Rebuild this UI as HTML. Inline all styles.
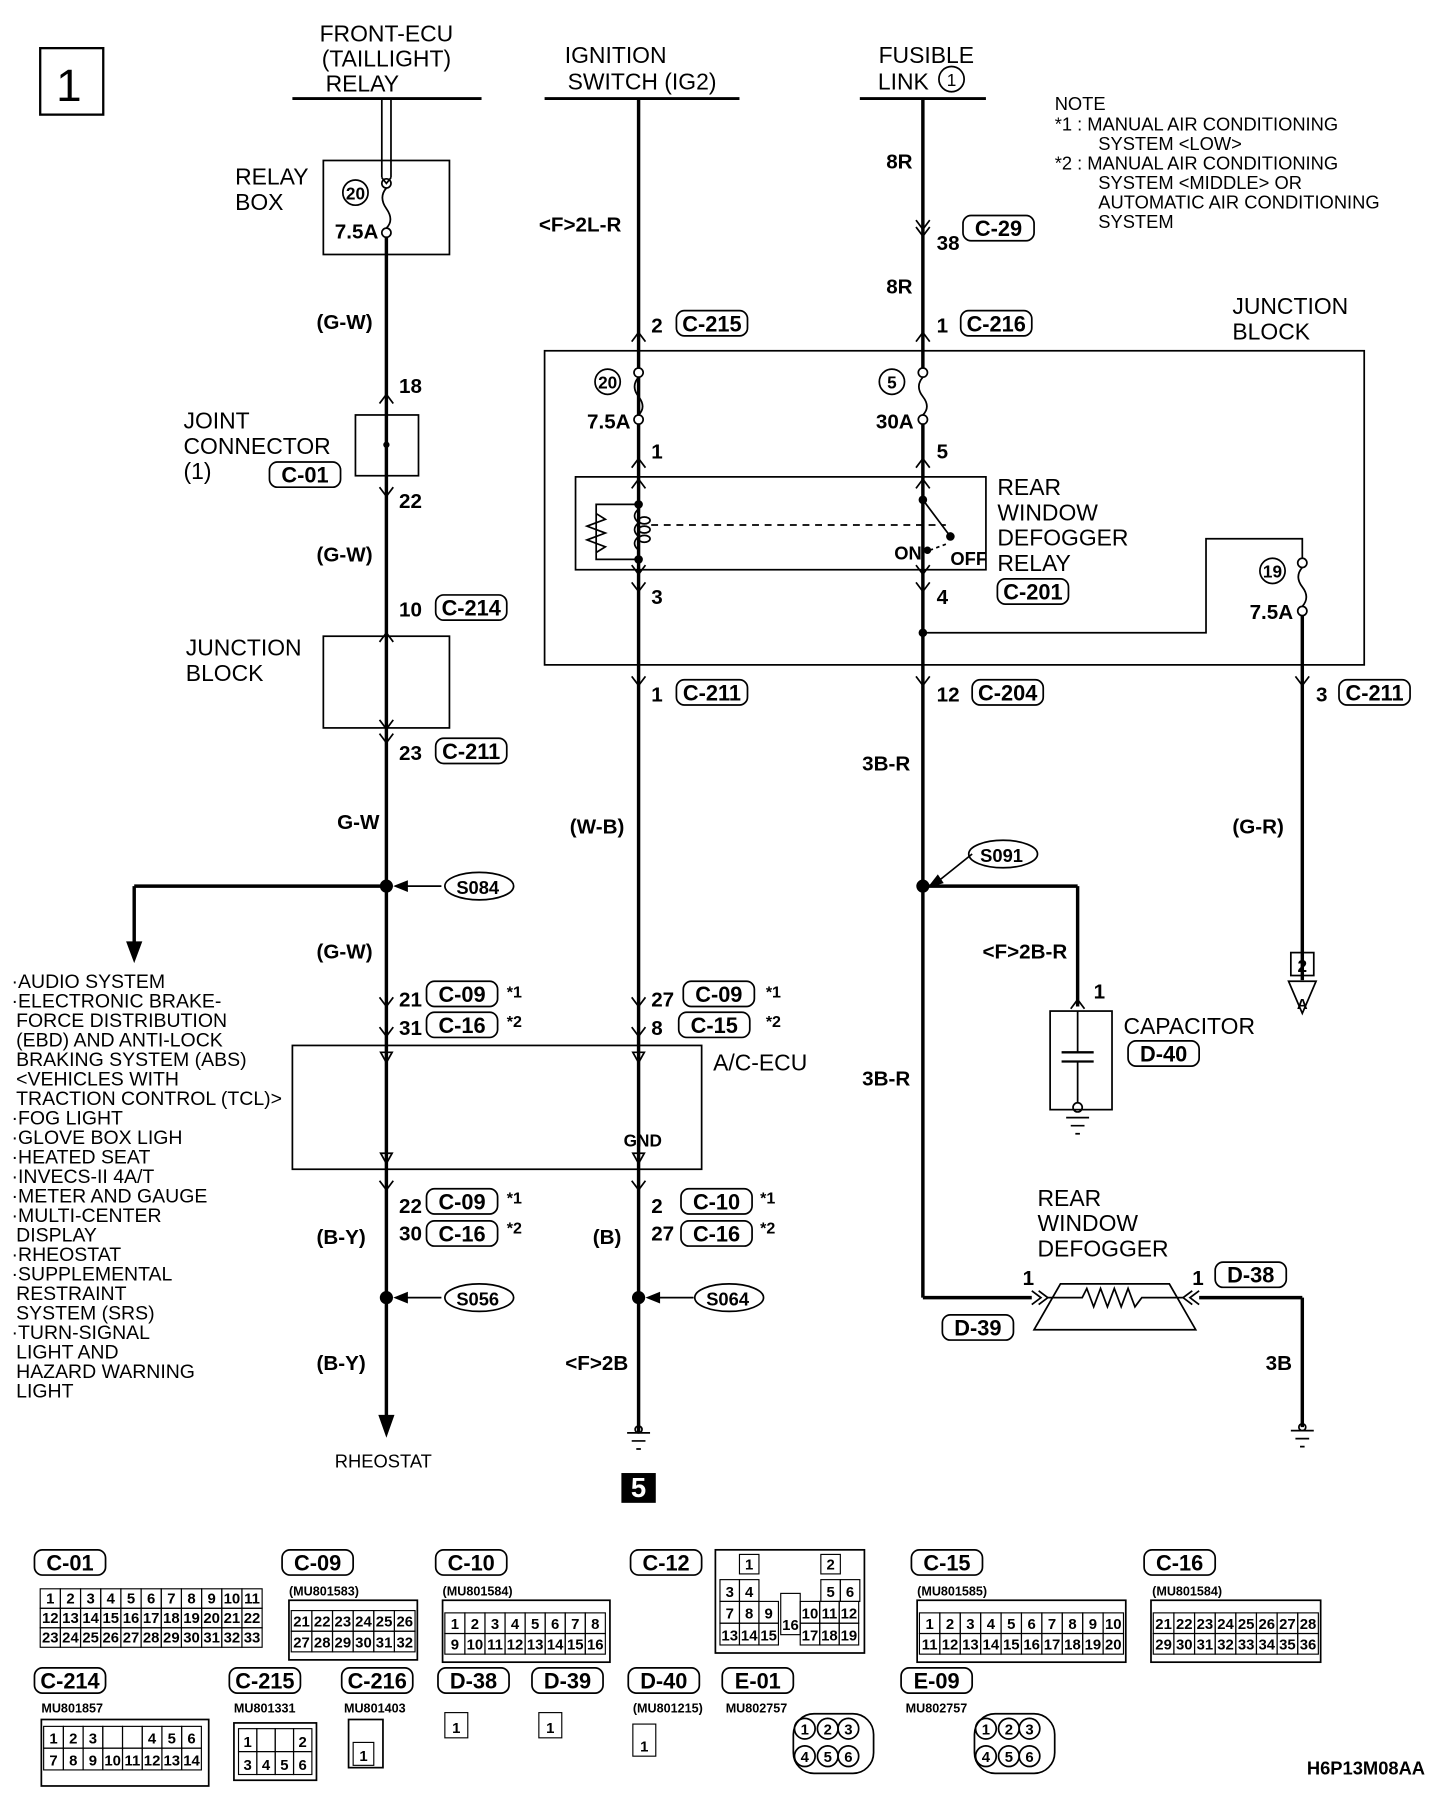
<!DOCTYPE html>
<html><head><meta charset="utf-8"><style>
html,body{margin:0;padding:0;background:#fff}
svg{display:block}
text{font-family:"Liberation Sans",sans-serif;fill:#000}
.b{font-weight:bold}
</style></head><body>
<svg id="s" width="1456" height="1794" viewBox="0 0 1270 1565" xmlns="http://www.w3.org/2000/svg">
<g fill="none" stroke="#000" stroke-width="1.5">
<rect x="35" y="42" width="55" height="58" stroke-width="2"/>
<!-- headers -->
<line x1="255" y1="86" x2="420" y2="86" stroke-width="2.5"/>
<line x1="475" y1="86" x2="645" y2="86" stroke-width="2.5"/>
<line x1="750" y1="86" x2="860" y2="86" stroke-width="2.5"/>
<line x1="333" y1="86" x2="333" y2="155"/><line x1="341" y1="86" x2="341" y2="155"/>
<path d="M333 155 L337 160 L341 155"/>
<!-- relay box -->
<rect x="282" y="140" width="110" height="82"/>
<circle cx="337" cy="160" r="4"/><circle cx="337" cy="203" r="4"/>
<path d="M337 164 Q330 172 337 182 Q344 192 337 199"/>
<!-- left main wire -->
<line x1="337" y1="207" x2="337" y2="1235" stroke-width="3"/>
<polygon points="331,1235 343,1235 337,1252" fill="#000"/>
<rect x="310" y="362" width="55" height="53"/>
<circle cx="337" cy="388" r="2" fill="#000"/>
<rect x="282" y="555" width="110" height="80"/>
<path d="M331 352 L337 344 L343 352 M331 425 L337 433 L343 425 M331 560 L337 552 L343 560 M331 628 L337 636 L343 628 M331 640 L337 648 L343 640 M331 870 L337 878 L343 870 M331 896 L337 904 L343 896 M331 1030 L337 1038 L343 1030"/>
<circle cx="337" cy="773" r="5" fill="#000"/>
<line x1="337" y1="773" x2="117" y2="773" stroke-width="3"/>
<line x1="117" y1="773" x2="117" y2="822" stroke-width="3"/>
<polygon points="111,822 123,822 117,838" fill="#000"/>
<line x1="345" y1="773" x2="385" y2="773"/><polygon points="345,773 355,769 355,777" fill="#000"/>
<circle cx="337" cy="1132" r="5" fill="#000"/>
<line x1="345" y1="1132" x2="385" y2="1132"/><polygon points="345,1132 355,1128 355,1136" fill="#000"/>
<!-- A/C ECU -->
<rect x="255" y="912" width="357" height="108"/>
<path d="M332 918 L342 918 L337 927Z M552 918 L562 918 L557 927Z M332 1006 L342 1006 L337 1015Z M552 1006 L562 1006 L557 1015Z"/>
<!-- middle wire -->
<line x1="557" y1="86" x2="557" y2="1250" stroke-width="3"/>
<path d="M551 298 L557 290 L563 298 M551 590 L557 598 L563 590 M551 870 L557 878 L563 870 M551 896 L557 904 L563 896 M551 1030 L557 1038 L563 1030"/>
<circle cx="557" cy="1132" r="5" fill="#000"/>
<line x1="565" y1="1132" x2="605" y2="1132"/><polygon points="565,1132 575,1128 575,1136" fill="#000"/>
<path d="M547 1250 L567 1250 M551 1257 L563 1257 M555 1264 L559 1264"/>
<!-- junction block -->
<rect x="475" y="306" width="715" height="274"/>
<rect x="502" y="416" width="358" height="81"/>
<rect x="557" y="322" width="0" height="0"/>
<circle cx="557" cy="325" r="4" fill="#fff"/><circle cx="557" cy="366" r="4" fill="#fff"/>
<path d="M557 329 Q550 337 557 346 Q564 355 557 362"/>
<circle cx="805" cy="325" r="4" fill="#fff"/><circle cx="805" cy="366" r="4" fill="#fff"/>
<path d="M805 329 Q798 337 805 346 Q812 355 805 362"/>
<path d="M551 408 L557 400 L563 408 M551 426 L557 418 L563 426 M551 493 L557 501 L563 493 M551 508 L557 516 L563 508"/>
<path d="M799 408 L805 400 L811 408 M799 426 L805 418 L811 426 M799 493 L805 501 L811 493 M799 508 L805 516 L811 508 M799 298 L805 290 L811 298 M799 590 L805 598 L811 590 M799 192 L805 200 L811 192 M799 198 L805 206 L811 198"/>
<path d="M557 440 L520 440 L520 488 L557 488"/>
<path d="M520 448 L528 453 L512 459 L528 465 L512 471 L528 477 L520 482"/>
<circle cx="557" cy="440" r="3" fill="#000"/><circle cx="557" cy="488" r="3" fill="#000"/>
<path d="M557 444 Q550 450 557 456 Q550 462 557 468 Q550 474 557 480"/>
<ellipse cx="562" cy="454" rx="5" ry="3"/><ellipse cx="562" cy="462" rx="5" ry="3"/><ellipse cx="562" cy="470" rx="5" ry="3"/>
<line x1="568" y1="458" x2="825" y2="458" stroke-dasharray="6,5"/>
<line x1="805" y1="436" x2="829" y2="468"/><circle cx="805" cy="436" r="3" fill="#000"/><circle cx="829" cy="468" r="3" fill="#000"/>
<line x1="811" y1="480" x2="827" y2="474" stroke-dasharray="3,3"/><circle cx="809" cy="480" r="2.5" fill="#000"/>
<!-- right fuse -->
<path d="M805 552 L1052 552 L1052 470 L1136 470 L1136 487"/>
<circle cx="805" cy="552" r="3" fill="#000"/>
<circle cx="1136" cy="491" r="4" fill="#fff"/><circle cx="1136" cy="533" r="4" fill="#fff"/>
<path d="M1136 495 Q1129 503 1136 512 Q1143 521 1136 529"/>
<line x1="1136" y1="537" x2="1136" y2="855" stroke-width="3"/>
<path d="M1130 590 L1136 598 L1142 590"/>
<!-- fusible wire -->
<line x1="805" y1="86" x2="805" y2="321" stroke-width="3"/>
<line x1="805" y1="370" x2="805" y2="1132" stroke-width="3"/>
<line x1="805" y1="1132" x2="900" y2="1132" stroke-width="3"/>
<circle cx="805" cy="773" r="5" fill="#000"/>
<line x1="805" y1="773" x2="940" y2="773" stroke-width="3"/>
<line x1="940" y1="773" x2="940" y2="878" stroke-width="3"/>
<line x1="813" y1="773" x2="848" y2="745"/><polygon points="811,773 818,764 822,770" fill="#000"/>
<path d="M934 880 L940 872 L946 880"/>
<rect x="916" y="882" width="54" height="86"/>
<line x1="940" y1="882" x2="940" y2="918"/><line x1="926" y1="918" x2="954" y2="918" stroke-width="2"/><line x1="926" y1="926" x2="954" y2="926" stroke-width="2"/><line x1="940" y1="926" x2="940" y2="962"/>
<circle cx="940" cy="966" r="4"/>
<path d="M930 975 L950 975 M934 982 L946 982 M938 989 L942 989"/>
<!-- defogger -->
<path d="M902 1160 L925 1120 L1020 1120 L1043 1160 Z"/>
<path d="M900 1126 L908 1132 L900 1138 M906 1126 L914 1132 L906 1138 M1040 1126 L1032 1132 L1040 1138 M1046 1126 L1038 1132 L1046 1138"/>
<path d="M914 1132 L944 1132 L948 1124 L954 1140 L960 1124 L966 1140 L972 1124 L978 1140 L984 1124 L990 1140 L996 1132 L1032 1132"/>
<line x1="1046" y1="1132" x2="1136" y2="1132" stroke-width="3"/>
<line x1="1136" y1="1132" x2="1136" y2="1245" stroke-width="3"/>
<path d="M1126 1248 L1146 1248 M1130 1255 L1142 1255 M1134 1262 L1138 1262"/>
<circle cx="1136" cy="1245" r="3"/><circle cx="557" cy="1247" r="3"/>
<!-- ref box 2/A -->
<rect x="1126" y="831" width="20" height="20"/>
<path d="M1124 856 L1148 856 L1136 884 Z"/>
</g>
<g fill="none" stroke="#000" stroke-width="1.5">
<ellipse cx="310" cy="168" rx="11" ry="11"/><ellipse cx="530" cy="333" rx="11" ry="11"/><ellipse cx="778" cy="333" rx="11" ry="11"/><ellipse cx="1110" cy="498" rx="11" ry="11"/><ellipse cx="830" cy="69" rx="11" ry="11"/>
<ellipse cx="418" cy="773" rx="30" ry="12"/><ellipse cx="875" cy="745" rx="30" ry="12"/><ellipse cx="418" cy="1132" rx="30" ry="12"/><ellipse cx="636" cy="1132" rx="30" ry="12"/>
</g>
<g font-size="20">
<text x="60" y="88" font-size="40" text-anchor="middle">1</text>
<text x="337" y="36" text-anchor="middle">FRONT-ECU</text>
<text x="337" y="58" text-anchor="middle">(TAILLIGHT)</text>
<text x="316" y="80" text-anchor="middle">RELAY</text>
<text x="537" y="55" text-anchor="middle">IGNITION</text>
<text x="560" y="78" text-anchor="middle">SWITCH (IG2)</text>
<text x="808" y="55" text-anchor="middle">FUSIBLE</text>
<text x="788" y="78" text-anchor="middle">LINK</text>
<text x="830" y="75" font-size="15" text-anchor="middle">1</text>
<text x="205" y="161">RELAY</text><text x="205" y="183">BOX</text>
<text x="160" y="374">JOINT</text><text x="160" y="396">CONNECTOR</text><text x="160" y="418">(1)</text>
<text x="162" y="572">JUNCTION</text><text x="162" y="594">BLOCK</text>
<text x="1075" y="274">JUNCTION</text><text x="1075" y="296">BLOCK</text>
<text x="870" y="432">REAR</text><text x="870" y="454">WINDOW</text><text x="870" y="476">DEFOGGER</text><text x="870" y="498">RELAY</text>
<text x="622" y="934">A/C-ECU</text>
<text x="980" y="902">CAPACITOR</text>
<text x="905" y="1052">REAR</text><text x="905" y="1074">WINDOW</text><text x="905" y="1096">DEFOGGER</text>
<text x="292" y="1280" font-size="16">RHEOSTAT</text>
</g>
<g font-size="16">
<text x="920" y="96">NOTE</text>
<text x="920" y="114">*1 : MANUAL AIR CONDITIONING</text><text x="958" y="131">SYSTEM &lt;LOW&gt;</text>
<text x="920" y="148">*2 : MANUAL AIR CONDITIONING</text><text x="958" y="165">SYSTEM &lt;MIDDLE&gt; OR</text><text x="958" y="182">AUTOMATIC AIR CONDITIONING</text><text x="958" y="199">SYSTEM</text>
</g>
<g font-size="17">
<text x="10" y="862">·AUDIO SYSTEM</text><text x="10" y="879">·ELECTRONIC BRAKE-</text><text x="14" y="896">FORCE DISTRIBUTION</text><text x="14" y="913">(EBD) AND ANTI-LOCK</text><text x="14" y="930">BRAKING SYSTEM (ABS)</text><text x="14" y="947">&lt;VEHICLES WITH</text><text x="14" y="964">TRACTION CONTROL (TCL)&gt;</text><text x="10" y="981">·FOG LIGHT</text><text x="10" y="998">·GLOVE BOX LIGH</text><text x="10" y="1015">·HEATED SEAT</text><text x="10" y="1032">·INVECS-II 4A/T</text><text x="10" y="1049">·METER AND GAUGE</text><text x="10" y="1066">·MULTI-CENTER</text><text x="14" y="1083">DISPLAY</text><text x="10" y="1100">·RHEOSTAT</text><text x="10" y="1117">·SUPPLEMENTAL</text><text x="14" y="1134">RESTRAINT</text><text x="14" y="1151">SYSTEM (SRS)</text><text x="10" y="1168">·TURN-SIGNAL</text><text x="14" y="1185">LIGHT AND</text><text x="14" y="1202">HAZARD WARNING</text><text x="14" y="1219">LIGHT</text>
</g>
<g class="b" font-size="18">
<text x="310" y="174" font-size="15" text-anchor="middle">20</text>
<text x="292" y="208">7.5A</text>
<text x="276" y="287">(G-W)</text><text x="348" y="343">18</text><text x="348" y="443">22</text>
<text x="276" y="490">(G-W)</text><text x="348" y="538">10</text><text x="348" y="663">23</text>
<text x="294" y="723">G-W</text><text x="276" y="836">(G-W)</text>
<text x="348" y="878">21</text><text x="348" y="903">31</text>
<text x="348" y="1058">22</text><text x="348" y="1082">30</text>
<text x="276" y="1085">(B-Y)</text><text x="276" y="1195">(B-Y)</text>
<text x="470" y="202">&lt;F&gt;2L-R</text><text x="568" y="290">2</text>
<text x="530" y="339" font-size="15" text-anchor="middle">20</text><text x="512" y="374">7.5A</text>
<text x="568" y="400">1</text><text x="568" y="527">3</text><text x="568" y="612">1</text>
<text x="497" y="727">(W-B)</text>
<text x="568" y="878">27</text><text x="568" y="903">8</text>
<text x="544" y="1000" font-size="15">GND</text>
<text x="568" y="1058">2</text><text x="568" y="1082">27</text>
<text x="517" y="1085">(B)</text><text x="493" y="1195">&lt;F&gt;2B</text>
<text x="773" y="147">8R</text><text x="817" y="218">38</text><text x="773" y="256">8R</text><text x="817" y="290">1</text>
<text x="778" y="339" font-size="15" text-anchor="middle">5</text><text x="764" y="374">30A</text>
<text x="817" y="400">5</text><text x="817" y="527">4</text><text x="817" y="612">12</text>
<text x="780" y="488" font-size="16">ON</text><text x="829" y="493" font-size="16">OFF</text>
<text x="1110" y="504" font-size="15" text-anchor="middle">19</text><text x="1090" y="540">7.5A</text>
<text x="1148" y="612">3</text>
<text x="752" y="672">3B-R</text><text x="1075" y="727">(G-R)</text>
<text x="857" y="836">&lt;F&gt;2B-R</text><text x="954" y="871">1</text>
<text x="752" y="947">3B-R</text>
<text x="892" y="1121">1</text><text x="1040" y="1121">1</text>
<text x="1104" y="1195">3B</text>
<text x="1136" y="848" font-size="15" text-anchor="middle">2</text><text x="1136" y="880" font-size="13" text-anchor="middle">A</text>
<text x="398" y="780" font-size="16">S084</text><text x="855" y="752" font-size="16">S091</text>
<text x="398" y="1139" font-size="16">S056</text><text x="616" y="1139" font-size="16">S064</text>
<text x="442" y="870" font-size="14">*1</text><text x="442" y="896" font-size="14">*2</text>
<text x="668" y="870" font-size="14">*1</text><text x="668" y="896" font-size="14">*2</text>
<text x="442" y="1050" font-size="14">*1</text><text x="442" y="1076" font-size="14">*2</text>
<text x="663" y="1050" font-size="14">*1</text><text x="663" y="1076" font-size="14">*2</text>
<text x="1140" y="1548" font-size="16">H6P13M08AA</text>
</g>
<rect x="542" y="1285" width="30" height="26" fill="#000"/>
<text x="557" y="1306" text-anchor="middle" font-size="24" class="b" style="fill:#fff">5</text>
<g id="lbl"></g>
<g id="grid"></g>
</svg>
<script>
var NS="http://www.w3.org/2000/svg",L=document.getElementById("lbl"),G=document.getElementById("grid");
function el(p,t,a){var e=document.createElementNS(NS,t);for(var k in a)e.setAttribute(k,a[k]);p.appendChild(e);return e;}
function lab(x,y,t,w){w=w||62;el(L,"rect",{x:x,y:y,width:w,height:22,rx:7,fill:"#fff",stroke:"#000","stroke-width":1.5});var e=el(L,"text",{x:x+w/2,y:y+18,"text-anchor":"middle","font-size":19,"class":"b"});e.textContent=t;}
[[590,271,"C-215"],[840,188,"C-29"],[838,271,"C-216"],[235,403,"C-01"],[380,519,"C-214"],[380,644,"C-211"],[590,593,"C-211"],[848,593,"C-204"],[1168,593,"C-211"],[870,505,"C-201"],[372,856,"C-09"],[372,883,"C-16"],[596,856,"C-09"],[592,883,"C-15"],[372,1037,"C-09"],[372,1065,"C-16"],[594,1037,"C-10"],[594,1065,"C-16"],[984,908,"D-40"],[1060,1101,"D-38"],[822,1147,"D-39"],
[30,1352,"C-01"],[246,1352,"C-09"],[380,1352,"C-10"],[550,1352,"C-12"],[795,1352,"C-15"],[998,1352,"C-16"],[30,1455,"C-214"],[200,1455,"C-215"],[298,1455,"C-216"],[382,1455,"D-38"],[464,1455,"D-39"],[548,1455,"D-40"],[630,1455,"E-01"],[786,1455,"E-09"]].forEach(function(a){lab(a[0],a[1],a[2]);});
function grid(x,y,cw,ch,rows){rows.forEach(function(r,i){r.forEach(function(n,j){el(G,"rect",{x:x+j*cw,y:y+i*ch,width:cw,height:ch,fill:"none",stroke:"#000","stroke-width":1});if(n!==""){var t=el(G,"text",{x:x+j*cw+cw/2,y:y+i*ch+ch-4,"text-anchor":"middle","font-size":13,"class":"b"});t.textContent=n;}});});}
function rng(a,b){var r=[];for(var i=a;i<=b;i++)r.push(i);return r;}
function sm(x,y,t){var e=el(G,"text",{x:x,y:y,"font-size":11,"class":"b"});e.textContent=t;}
grid(35,1386,17.6,17,[rng(1,11),rng(12,22),rng(23,33)]);
sm(252,1392,"(MU801583)");grid(254,1405,18,18,[rng(21,26),rng(27,32)]);el(G,"rect",{x:252,y:1396,width:112,height:52,fill:"none",stroke:"#000","stroke-width":1.5});
sm(386,1392,"(MU801584)");grid(388,1407,17.5,18,[rng(1,8),rng(9,16)]);el(G,"rect",{x:386,y:1396,width:146,height:54,fill:"none",stroke:"#000","stroke-width":1.5});
el(G,"rect",{x:624,y:1352,width:130,height:90,fill:"none",stroke:"#000","stroke-width":1.5});
grid(628,1378,17,19,[[3,4]]);grid(716,1378,17,19,[[5,6]]);grid(628,1397,17,19,[[7,8,9],[13,14,15]]);grid(698,1397,17,19,[[10,11,12],[17,18,19]]);grid(645,1356,17,17,[[1]]);grid(716,1356,17,17,[[2]]);grid(681,1390,17,36,[[16]]);
sm(800,1392,"(MU801585)");grid(802,1407,17.8,18,[rng(1,10),rng(11,20)]);el(G,"rect",{x:800,y:1396,width:182,height:54,fill:"none",stroke:"#000","stroke-width":1.5});
sm(1005,1392,"(MU801584)");grid(1006,1407,18,18,[rng(21,28),rng(29,36)]);el(G,"rect",{x:1004,y:1396,width:148,height:54,fill:"none",stroke:"#000","stroke-width":1.5});
sm(36,1494,"MU801857");grid(38,1506,17.2,19,[[1,2,3,"","",4,5,6],[7,8,9,10,11,12,13,14]]);el(G,"rect",{x:36,y:1500,width:146,height:58,fill:"none",stroke:"#000","stroke-width":1.5});
sm(204,1494,"MU801331");grid(208,1508,16,20,[[1,"","",2],[3,4,5,6]]);el(G,"rect",{x:204,y:1503,width:72,height:50,fill:"none",stroke:"#000","stroke-width":1.5});
sm(300,1494,"MU801403");grid(308,1520,18,20,[[1]]);el(G,"rect",{x:304,y:1500,width:30,height:42,fill:"none",stroke:"#000","stroke-width":1.5});
grid(388,1494,20,22,[[1]]);grid(470,1494,20,22,[[1]]);
sm(552,1494,"(MU801215)");grid(552,1504,20,28,[[1]]);
sm(633,1494,"MU802757");sm(790,1494,"MU802757");
[[720,1520],[878,1520]].forEach(function(p){el(G,"rect",{x:p[0]-28,y:p[1]-25,width:70,height:52,rx:18,fill:"none",stroke:"#000","stroke-width":1.5});[[1,-14,-12],[2,6,-12],[3,24,-12],[4,-14,12],[5,6,12],[6,24,12]].forEach(function(c){el(G,"circle",{cx:p[0]+c[1]-4,cy:p[1]+c[2],r:9,fill:"none",stroke:"#000","stroke-width":1.5});var t=el(G,"text",{x:p[0]+c[1]-4,y:p[1]+c[2]+5,"text-anchor":"middle","font-size":13,"class":"b"});t.textContent=c[0];});});
</script>
</body></html>
